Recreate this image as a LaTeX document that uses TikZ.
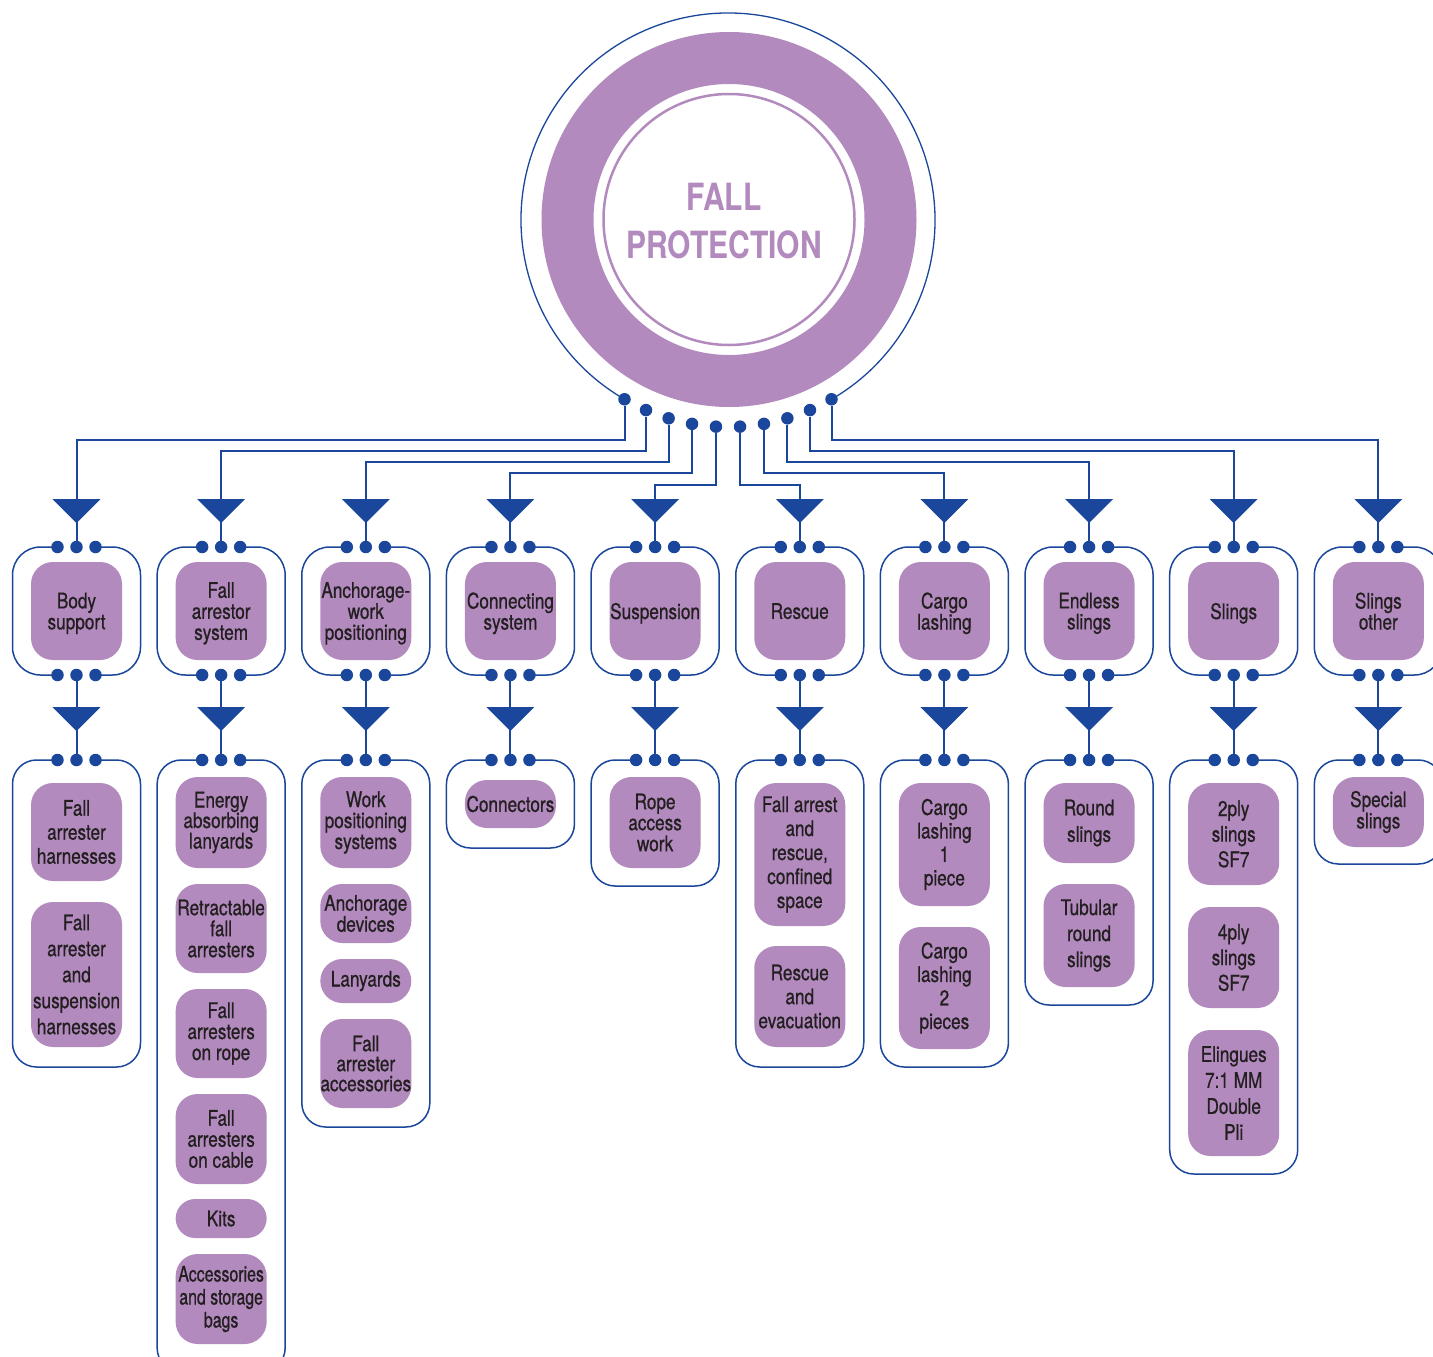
\documentclass[tikz,border=0pt]{standalone}
\usepackage{fontspec}
\setmainfont{TeX Gyre Heros}[FakeStretch=0.8, UprightFeatures={FakeBold=0.7}]
\newfontfamily\narrowfont{TeX Gyre Heros}[FakeStretch=0.74, UprightFeatures={FakeBold=0.7}]
\usetikzlibrary{calc}
\definecolor{lav}{HTML}{B28ABE}
\definecolor{navy}{HTML}{1A479B}
\definecolor{ink}{HTML}{231F20}
\newcommand\fpitem[6]{%
  \pgfmathsetmacro\fph{#5-#4}%
  \pgfmathsetmacro\fpm{(#4+#5)/2}%
  \pgfmathsetmacro\fpr{min(22,\fph/2)}%
  \node[item, minimum height=\fph pt, rounded corners=\fpr pt, #1] (#2) at (#3,\fpm) {#6};}
\begin{document}
\begin{tikzpicture}[x=1pt,y=-1pt,
  dot/.style={circle, fill=navy, draw=none, inner sep=0pt, minimum size=12.5pt},
  conn/.style={draw=navy, line width=2pt},
  boxline/.style={draw=navy, line width=1.5pt},
  lead/.style={font=\fontsize{21.5}{#1}\selectfont},
  narrowlead/.style={font=\narrowfont\fontsize{21.5}{#1}\selectfont},
  cat/.style={fill=lav, rounded corners=22pt, minimum width=91pt, minimum height=98pt, inner sep=0pt, align=center, text=ink, lead=21, text depth=-5.5pt},
  item/.style={fill=lav, minimum width=91pt, inner sep=0pt, align=center, text=ink, lead=21},
  tip/.style={fill=navy}
]
\useasboundingbox (0,0) rectangle (1433,1357);
\fill[white] (0,0) rectangle (1433,1357);
\clip (0,0) rectangle (1433,1357);

% central emblem
\fill[lav, even odd rule] (729,219.5) circle[radius=187.5] (729,219.5) circle[radius=135.5];
\draw[lav, line width=2.5pt] (729,219.5) circle[radius=125.5];
\node[text=lav, font=\bfseries\fontsize{37.5}{48}\selectfont, align=center, inner sep=0pt] (title) at (724,221) {FALL\\PROTECTION};
\draw[navy, line width=1.3pt] (728,220) ++(120:207) arc[start angle=120, end angle=420, radius=207];
\foreach \k in {1,...,10}{
  \pgfmathsetmacro\ang{120-(\k-1)*60/9}
  \node[dot] (hub\k) at ($(728,220)+(\ang:207)$) {};
}

% outlines and dots of every column
\foreach \i/\b in {1/1067,2/1372,3/1127,4/848,5/886,6/1067,7/1067,8/1005,9/1174,10/864}{
  \pgfmathsetmacro\cx{76.5+144.65*(\i-1)}
  \draw[boxline, rounded corners=28pt] (\cx-19,547) -- (\cx-64,547) -- (\cx-64,675) -- (\cx-19,675);
  \draw[boxline, rounded corners=28pt] (\cx+19,547) -- (\cx+64,547) -- (\cx+64,675) -- (\cx+19,675);
  \draw[boxline, rounded corners=24pt] (\cx-19,760) -- (\cx-64,760) -- (\cx-64,\b) -- (\cx+64,\b) -- (\cx+64,760) -- (\cx+19,760);
  \node[dot] (ta\i) at (\cx-19,547) {};
  \node[dot] (tb\i) at (\cx,547) {};
  \node[dot] (tc\i) at (\cx+19,547) {};
  \node[dot] (ba\i) at (\cx-19,675) {};
  \node[dot] (bb\i) at (\cx,675) {};
  \node[dot] (bc\i) at (\cx+19,675) {};
  \node[dot] (ka\i) at (\cx-19,760) {};
  \node[dot] (kb\i) at (\cx,760) {};
  \node[dot] (kc\i) at (\cx+19,760) {};
}

% connectors
\foreach \k/\lv in {1/440,2/451,3/462,4/473,5/485,6/485,7/473,8/462,9/451,10/440}{
  \pgfmathsetmacro\cx{76.5+144.65*(\k-1)}
  \coordinate (lv\k) at (0,\lv);
  \draw[conn] (hub\k) -- (hub\k |- lv\k) -| (tb\k);
  \fill[tip] (\cx-24,499) -- (\cx+24,499) -- (\cx,523) -- cycle;
  \draw[conn] (bb\k) -- (kb\k);
  \fill[tip] (\cx-24,707) -- (\cx+24,707) -- (\cx,731) -- cycle;
}

% category boxes
\node[cat] (cat1) at (76.5,611) {Body\\support};
\node[cat] (cat2) at (221.15,611) {Fall\\arrestor\\system};
\node[cat] (cat3) at (365.8,611) {Anchorage-\\work\\positioning};
\node[cat] (cat4) at (510.45,611) {Connecting\\system};
\node[cat] (cat5) at (655.1,611) {Suspension};
\node[cat] (cat6) at (799.75,611) {Rescue};
\node[cat] (cat7) at (944.4,611) {Cargo\\lashing};
\node[cat] (cat8) at (1089.05,611) {Endless\\slings};
\node[cat] (cat9) at (1233.7,611) {Slings};
\node[cat] (cat10) at (1378.35,611) {Slings\\other};

% children
\fpitem{lead=24}{c1a}{76.5}{783}{881}{Fall\\arrester\\harnesses}
\fpitem{lead=26}{c1b}{76.5}{902}{1047}{Fall\\arrester\\and\\suspension\\harnesses}

\fpitem{lead=20.5}{c2a}{221.15}{777}{868}{Energy\\absorbing\\lanyards}
\fpitem{lead=21}{c2b}{221.15}{884}{973}{Retractable\\fall\\arresters}
\fpitem{lead=21}{c2c}{221.15}{989}{1078}{Fall\\arresters\\on rope}
\fpitem{lead=21}{c2d}{221.15}{1094}{1184}{Fall\\arresters\\on cable}
\fpitem{lead=21}{c2e}{221.15}{1199}{1238}{Kits}
\fpitem{narrowlead=23}{c2f}{221.15}{1254}{1344}{Accessories\\and storage\\bags}

\fpitem{lead=21}{c3a}{365.8}{777}{868}{Work\\positioning\\systems}
\fpitem{lead=21}{c3b}{365.8}{884}{943}{Anchorage\\devices}
\fpitem{lead=21}{c3c}{365.8}{959}{1003}{Lanyards}
\fpitem{lead=20}{c3d}{365.8}{1019}{1108}{Fall\\arrester\\accessories}

\fpitem{lead=21}{c4a}{510.45}{780}{828}{Connectors}

\fpitem{lead=21}{c5a}{655.1}{777}{868}{Rope\\access\\work}

\fpitem{lead=24}{c6a}{799.75}{783}{926}{Fall arrest\\and\\rescue,\\confined\\space}
\fpitem{lead=24}{c6b}{799.75}{946}{1047}{Rescue\\and\\evacuation}

\fpitem{lead=23.5}{c7a}{944.4}{783}{906}{Cargo\\lashing\\1\\piece}
\fpitem{lead=23.5}{c7b}{944.4}{927}{1049}{Cargo\\lashing\\2\\pieces}

\fpitem{lead=26.5}{c8a}{1089.05}{783}{863}{Round\\slings}
\fpitem{lead=26}{c8b}{1089.05}{884}{987}{Tubular\\round\\slings}

\fpitem{lead=25.5}{c9a}{1233.7}{783}{885}{2ply\\slings\\SF7}
\fpitem{lead=25.5}{c9b}{1233.7}{907}{1008}{4ply\\slings\\SF7}
\fpitem{lead=26}{c9c}{1233.7}{1030}{1156}{Elingues\\7:1 MM\\Double\\Pli}

\fpitem{lead=20}{c10a}{1378.35}{777}{847}{Special\\slings}
\end{tikzpicture}
\end{document}
